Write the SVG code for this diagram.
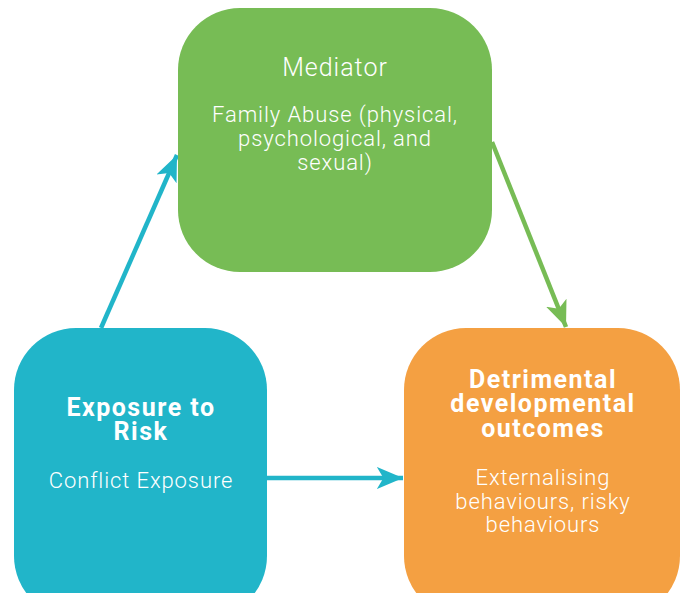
<svg xmlns="http://www.w3.org/2000/svg" width="684" height="593" viewBox="0 0 684 593">
<defs>
<style>
.t{font-family:Roboto,"Liberation Sans",sans-serif;font-weight:300;fill:#fff;text-anchor:middle;font-size:22px;letter-spacing:0.9px}
.m{font-size:25px;letter-spacing:1px}
.b{font-family:Roboto,"Liberation Sans",sans-serif;font-weight:700;fill:#fff;text-anchor:middle;font-size:25px;letter-spacing:1.5px}
.c{stroke:#21B5C9;stroke-width:4.5;fill:none}
.g{stroke:#77BC55;stroke-width:4.5;fill:none}
</style>
<marker id="ac" viewBox="0 0 10 10" refX="10" refY="5" markerWidth="5.8" markerHeight="5.8" markerUnits="strokeWidth" orient="auto"><path d="M0,0.8 L10,5 L0,9.2 L2.5,5 Z" fill="#21B5C9"/></marker>
<marker id="ag" viewBox="0 0 10 10" refX="10" refY="5" markerWidth="5.8" markerHeight="5.8" markerUnits="strokeWidth" orient="auto"><path d="M0,0.8 L10,5 L0,9.2 L2.5,5 Z" fill="#77BC55"/></marker>
</defs>
<rect width="684" height="593" fill="#fff"/>
<g id="connectors">
<line class="c" x1="101" y1="328" x2="177" y2="155" marker-end="url(#ac)"/>
<line class="g" x1="492" y1="142" x2="566" y2="327" marker-end="url(#ag)"/>
<line class="c" x1="266" y1="478" x2="403" y2="478" marker-end="url(#ac)"/>
</g>
<g id="mediator">
<rect x="178" y="8" width="314" height="264" rx="62" fill="#77BC55"/>
<text class="t m" x="335" y="76">Mediator</text>
<text class="t" x="335" y="122">Family Abuse (physical,</text>
<text class="t" x="335" y="146">psychological, and</text>
<text class="t" x="335" y="170">sexual)</text>
</g>
<g id="exposure">
<rect x="14" y="328" width="253" height="290" rx="62" fill="#21B5C9"/>
<text class="b" x="141" y="416">Exposure to</text>
<text class="b" x="141" y="440">Risk</text>
<text class="t" x="141" y="488">Conflict Exposure</text>
</g>
<g id="outcomes">
<rect x="404" y="328" width="276" height="290" rx="62" fill="#F4A042"/>
<text class="b" x="543" y="388">Detrimental</text>
<text class="b" x="543" y="412">developmental</text>
<text class="b" x="543" y="437">outcomes</text>
<text class="t" x="543" y="485">Externalising</text>
<text class="t" x="543" y="509">behaviours, risky</text>
<text class="t" x="543" y="532">behaviours</text>
</g>
</svg>
